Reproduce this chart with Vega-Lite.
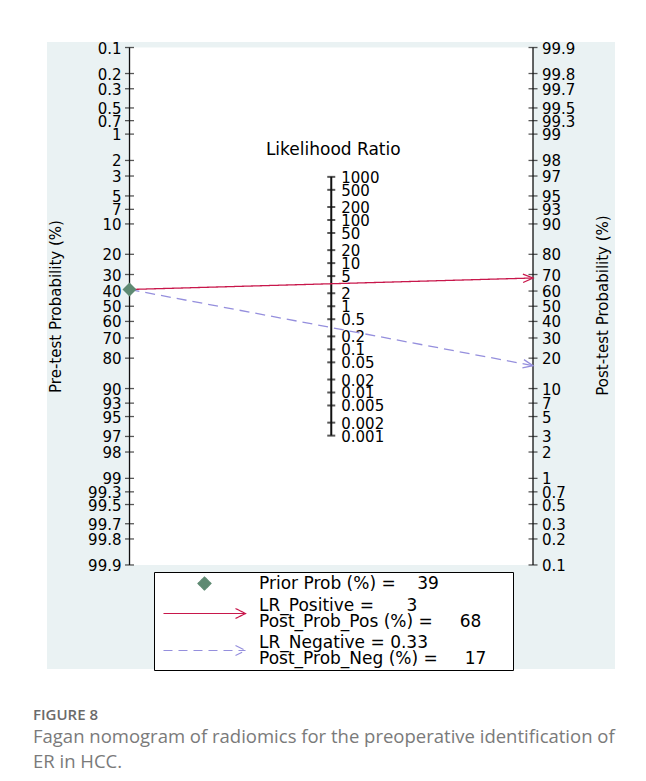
{
  "$schema": "https://vega.github.io/schema/vega-lite/v6.json",
  "width": 568,
  "height": 627,
  "autosize": "none",
  "padding": {"left": 47, "top": 42, "right": 31, "bottom": 112},
  "background": "white",
  "config": {
    "view": {"stroke": null, "fill": "#eaf2f3"},
    "font": "DejaVu Sans"
  },
  "title": {
    "text": "FIGURE 8",
    "subtitle": ["Fagan nomogram of radiomics for the preoperative identification of", "ER in HCC."],
    "orient": "bottom",
    "anchor": "start",
    "frame": "group",
    "dx": -14,
    "offset": 37,
    "font": "Open Sans",
    "fontSize": 15,
    "fontWeight": 600,
    "color": "#6b6b6b",
    "subtitleFont": "Open Sans",
    "subtitleFontSize": 18.5,
    "subtitleColor": "#7a7a7a",
    "subtitlePadding": 5,
    "subtitleLineHeight": 25.5
  },
  "datasets": {
    "ticks": [
      {"axis": "pre", "v": 0.1}, {"axis": "pre", "v": 0.2}, {"axis": "pre", "v": 0.3}, {"axis": "pre", "v": 0.5}, {"axis": "pre", "v": 0.7},
      {"axis": "pre", "v": 1}, {"axis": "pre", "v": 2}, {"axis": "pre", "v": 3}, {"axis": "pre", "v": 5}, {"axis": "pre", "v": 7},
      {"axis": "pre", "v": 10}, {"axis": "pre", "v": 20}, {"axis": "pre", "v": 30}, {"axis": "pre", "v": 40}, {"axis": "pre", "v": 50},
      {"axis": "pre", "v": 60}, {"axis": "pre", "v": 70}, {"axis": "pre", "v": 80}, {"axis": "pre", "v": 90}, {"axis": "pre", "v": 93},
      {"axis": "pre", "v": 95}, {"axis": "pre", "v": 97}, {"axis": "pre", "v": 98}, {"axis": "pre", "v": 99}, {"axis": "pre", "v": 99.3},
      {"axis": "pre", "v": 99.5}, {"axis": "pre", "v": 99.7}, {"axis": "pre", "v": 99.8}, {"axis": "pre", "v": 99.9},
      {"axis": "post", "v": 0.1}, {"axis": "post", "v": 0.2}, {"axis": "post", "v": 0.3}, {"axis": "post", "v": 0.5}, {"axis": "post", "v": 0.7},
      {"axis": "post", "v": 1}, {"axis": "post", "v": 2}, {"axis": "post", "v": 3}, {"axis": "post", "v": 5}, {"axis": "post", "v": 7},
      {"axis": "post", "v": 10}, {"axis": "post", "v": 20}, {"axis": "post", "v": 30}, {"axis": "post", "v": 40}, {"axis": "post", "v": 50},
      {"axis": "post", "v": 60}, {"axis": "post", "v": 70}, {"axis": "post", "v": 80}, {"axis": "post", "v": 90}, {"axis": "post", "v": 93},
      {"axis": "post", "v": 95}, {"axis": "post", "v": 97}, {"axis": "post", "v": 98}, {"axis": "post", "v": 99}, {"axis": "post", "v": 99.3},
      {"axis": "post", "v": 99.5}, {"axis": "post", "v": 99.7}, {"axis": "post", "v": 99.8}, {"axis": "post", "v": 99.9},
      {"axis": "lr", "v": 0.001}, {"axis": "lr", "v": 0.002}, {"axis": "lr", "v": 0.005}, {"axis": "lr", "v": 0.01}, {"axis": "lr", "v": 0.02},
      {"axis": "lr", "v": 0.05}, {"axis": "lr", "v": 0.1}, {"axis": "lr", "v": 0.2}, {"axis": "lr", "v": 0.5}, {"axis": "lr", "v": 1},
      {"axis": "lr", "v": 2}, {"axis": "lr", "v": 5}, {"axis": "lr", "v": 10}, {"axis": "lr", "v": 20}, {"axis": "lr", "v": 50},
      {"axis": "lr", "v": 100}, {"axis": "lr", "v": 200}, {"axis": "lr", "v": 500}, {"axis": "lr", "v": 1000}
    ],
    "lines": [
      {"series": "prior", "axis": "pre", "v": 39},
      {"series": "pos", "axis": "pre", "v": 39},
      {"series": "pos", "axis": "post", "v": 68},
      {"series": "neg", "axis": "pre", "v": 39},
      {"series": "neg", "axis": "post", "v": 17}
    ]
  },
  "resolve": {"scale": {"y": "shared", "x": "shared"}, "axis": {"y": "independent"}},
  "layer": [
    {
      "data": {"name": "ticks"},
      "transform": [
        {"filter": "datum.axis != 'lr'"},
        {"calculate": "datum.axis=='pre' ? 0 : datum.axis=='lr' ? 0.5 : 1", "as": "xpos"},
        {"calculate": "datum.axis=='lr' ? -log(datum.v)/2 : (datum.axis=='pre' ? 1 : -1) * log(datum.v/(100-datum.v))", "as": "ypos"},
        {"aggregate": [
          {"op": "min", "field": "xpos", "as": "x1"}, {"op": "max", "field": "xpos", "as": "x2"},
          {"op": "min", "field": "ypos", "as": "y1"}, {"op": "max", "field": "ypos", "as": "y2"}
        ]}
      ],
      "mark": {"type": "rect", "fill": "white"},
      "encoding": {
        "x": {"field": "x1", "type": "quantitative", "axis": null, "scale": {"domain": [-0.2045, 1.2032], "nice": false, "zero": false}},
        "x2": {"field": "x2"},
        "y": {"field": "y1", "type": "quantitative", "scale": {"domain": [-7.054, 9.684], "reverse": true, "nice": false, "zero": false},
          "axis": {"orient": "left", "title": "Pre-test Probability (%)", "labels": false, "ticks": false, "domain": false, "grid": false,
            "titleX": 8, "titleY": 264, "titleAngle": -90, "titleAlign": "center", "titleBaseline": "middle",
            "titleFont": "DejaVu Sans", "titleFontSize": 15, "titleFontWeight": "normal", "titleColor": "#000"}},
        "y2": {"field": "y2"}
      }
    },
    {
      "data": {"name": "ticks"},
      "transform": [
        {"calculate": "datum.axis=='pre' ? 0 : datum.axis=='lr' ? 0.5 : 1", "as": "xpos"},
        {"calculate": "datum.axis=='lr' ? -log(datum.v)/2 : (datum.axis=='pre' ? 1 : -1) * log(datum.v/(100-datum.v))", "as": "ypos"},
        {"aggregate": [{"op": "min", "field": "ypos", "as": "y1"}, {"op": "max", "field": "ypos", "as": "y2"}], "groupby": ["axis", "xpos"]}
      ],
      "mark": {"type": "rule", "color": "#111"},
      "encoding": {
        "x": {"field": "xpos", "type": "quantitative", "axis": null},
        "y": {"field": "y1", "type": "quantitative",
          "axis": {"orient": "right", "title": "Post-test Probability (%)", "labels": false, "ticks": false, "domain": false, "grid": false,
            "titleX": -13, "titleY": 263, "titleAngle": -90, "titleAlign": "center", "titleBaseline": "middle",
            "titleFont": "DejaVu Sans", "titleFontSize": 15, "titleFontWeight": "normal", "titleColor": "#000"}},
        "y2": {"field": "y2"},
        "strokeWidth": {"condition": {"test": "datum.axis=='lr'", "value": 2}, "value": 1.3}
      }
    },
    {
      "data": {"name": "ticks"},
      "transform": [
        {"filter": "datum.axis != 'lr'"},
        {"calculate": "datum.axis=='pre' ? 0 : datum.axis=='lr' ? 0.5 : 1", "as": "xpos"},
        {"calculate": "datum.axis=='lr' ? -log(datum.v)/2 : (datum.axis=='pre' ? 1 : -1) * log(datum.v/(100-datum.v))", "as": "ypos"}
      ],
      "mark": {"type": "tick", "orient": "horizontal", "size": 9, "thickness": 1.3, "color": "#111"},
      "encoding": {
        "x": {"field": "xpos", "type": "quantitative", "axis": null},
        "y": {"field": "ypos", "type": "quantitative", "axis": null}
      }
    },
    {
      "data": {"name": "ticks"},
      "transform": [
        {"filter": "datum.axis == 'lr'"},
        {"calculate": "datum.axis=='pre' ? 0 : datum.axis=='lr' ? 0.5 : 1", "as": "xpos"},
        {"calculate": "datum.axis=='lr' ? -log(datum.v)/2 : (datum.axis=='pre' ? 1 : -1) * log(datum.v/(100-datum.v))", "as": "ypos"}
      ],
      "mark": {"type": "tick", "orient": "horizontal", "size": 8, "thickness": 2, "color": "#111"},
      "encoding": {
        "x": {"field": "xpos", "type": "quantitative", "axis": null},
        "y": {"field": "ypos", "type": "quantitative", "axis": null}
      }
    },
    {
      "data": {"name": "ticks"},
      "transform": [
        {"filter": "datum.axis == 'pre'"},
        {"calculate": "datum.axis=='pre' ? 0 : datum.axis=='lr' ? 0.5 : 1", "as": "xpos"},
        {"calculate": "datum.axis=='lr' ? -log(datum.v)/2 : (datum.axis=='pre' ? 1 : -1) * log(datum.v/(100-datum.v))", "as": "ypos"}
      ],
      "mark": {"type": "text", "align": "right", "baseline": "middle", "dx": -8, "dy": 1, "fontSize": 15, "font": "DejaVu Sans", "color": "#000"},
      "encoding": {
        "x": {"field": "xpos", "type": "quantitative", "axis": null},
        "y": {"field": "ypos", "type": "quantitative", "axis": null},
        "text": {"field": "v", "type": "nominal"}
      }
    },
    {
      "data": {"name": "ticks"},
      "transform": [
        {"filter": "datum.axis == 'post'"},
        {"calculate": "datum.axis=='pre' ? 0 : datum.axis=='lr' ? 0.5 : 1", "as": "xpos"},
        {"calculate": "datum.axis=='lr' ? -log(datum.v)/2 : (datum.axis=='pre' ? 1 : -1) * log(datum.v/(100-datum.v))", "as": "ypos"}
      ],
      "mark": {"type": "text", "align": "left", "baseline": "middle", "dx": 9, "dy": 1, "fontSize": 15, "font": "DejaVu Sans", "color": "#000"},
      "encoding": {
        "x": {"field": "xpos", "type": "quantitative", "axis": null},
        "y": {"field": "ypos", "type": "quantitative", "axis": null},
        "text": {"field": "v", "type": "nominal"}
      }
    },
    {
      "data": {"name": "ticks"},
      "transform": [
        {"filter": "datum.axis == 'lr'"},
        {"calculate": "datum.axis=='pre' ? 0 : datum.axis=='lr' ? 0.5 : 1", "as": "xpos"},
        {"calculate": "datum.axis=='lr' ? -log(datum.v)/2 : (datum.axis=='pre' ? 1 : -1) * log(datum.v/(100-datum.v))", "as": "ypos"}
      ],
      "mark": {"type": "text", "align": "left", "baseline": "middle", "dx": 10, "dy": 1, "fontSize": 15, "font": "DejaVu Sans", "color": "#000"},
      "encoding": {
        "x": {"field": "xpos", "type": "quantitative", "axis": null},
        "y": {"field": "ypos", "type": "quantitative", "axis": null},
        "text": {"field": "v", "type": "nominal"}
      }
    },
    {
      "data": {"name": "ticks"},
      "transform": [
        {"filter": "datum.axis == 'lr' && datum.v == 1000"},
        {"calculate": "datum.axis=='pre' ? 0 : datum.axis=='lr' ? 0.5 : 1", "as": "xpos"},
        {"calculate": "datum.axis=='lr' ? -log(datum.v)/2 : (datum.axis=='pre' ? 1 : -1) * log(datum.v/(100-datum.v))", "as": "ypos"}
      ],
      "mark": {"type": "text", "text": "Likelihood Ratio", "align": "center", "baseline": "middle", "dy": -27, "dx": 2, "fontSize": 17, "font": "DejaVu Sans", "color": "#000"},
      "encoding": {
        "x": {"field": "xpos", "type": "quantitative", "axis": null},
        "y": {"field": "ypos", "type": "quantitative", "axis": null}
      }
    },
    {
      "data": {"name": "lines"},
      "transform": [
        {"filter": "datum.series != 'prior'"},
        {"calculate": "datum.axis=='pre' ? 0 : datum.axis=='lr' ? 0.5 : 1", "as": "xpos"},
        {"calculate": "datum.axis=='lr' ? -log(datum.v)/2 : (datum.axis=='pre' ? 1 : -1) * log(datum.v/(100-datum.v))", "as": "ypos"}
      ],
      "mark": {"type": "line", "strokeWidth": 1.3},
      "encoding": {
        "x": {"field": "xpos", "type": "quantitative", "axis": null},
        "y": {"field": "ypos", "type": "quantitative", "axis": null},
        "order": {"field": "xpos", "type": "quantitative"},
        "strokeDash": {"condition": {"test": "datum.series=='neg'", "value": [10, 6]}, "value": [1, 0]},
        "color": {"field": "series", "type": "nominal",
          "scale": {"domain": ["prior", "pos", "neg"], "range": ["#5e8a72", "#c8174b", "#958fdd"]},
          "legend": {
            "orient": "none", "legendX": 107, "legendY": 530,
            "title": null, "padding": 3,
            "strokeColor": "#000", "fillColor": "#fff",
            "symbolSize": 169, "symbolStrokeWidth": 1.2,
            "symbolOffset": 39, "labelOffset": 46, "rowPadding": 3,
            "labelFont": "DejaVu Sans", "labelFontSize": 17, "labelColor": "#000", "labelLimit": 500,
            "labelExpr": "datum.value=='prior' ? 'Prior Prob (%) =\u00a0\u00a0\u00a0\u00a039' : datum.value=='pos' ? ['LR_Positive =\u00a0\u00a0\u00a0\u00a0\u00a0\u00a03', 'Post_Prob_Pos (%) =\u00a0\u00a0\u00a0\u00a0\u00a068'] : ['LR_Negative =\u00a00.33', 'Post_Prob_Neg (%) =\u00a0\u00a0\u00a0\u00a0\u00a017']",
            "encode": {
              "symbols": {"update": {
                "shape": {"signal": "datum.value=='prior' ? 'M-1,0L0,-1L1,0L0,1ZM46.6,0L46.6,0' : 'M-6.31,0L6.31,0M4.77,-0.77L6.31,0L4.77,0.77'"},
                "fill": {"signal": "datum.value=='prior' ? '#5e8a72' : 'transparent'"},
                "fillOpacity": {"signal": "datum.value=='prior' ? 1 : 0"},
                "stroke": {"signal": "datum.value=='pos' ? '#c8174b' : datum.value=='neg' ? '#958fdd' : 'transparent'"},
                "strokeDash": {"signal": "datum.value=='neg' ? [9, 6] : [1, 0]"},
                "strokeWidth": {"value": 1.2},
                "size": {"value": 169},
                "opacity": {"value": 1}
              }},
              "labels": {"update": {
                "lineHeight": {"value": 16},
                "dy": {"signal": "datum.value=='prior' ? 0 : -8"}
              }}
            }
          }}
      }
    },
    {
      "data": {"name": "lines"},
      "transform": [
        {"filter": "datum.series != 'prior' && datum.axis == 'post'"},
        {"calculate": "datum.axis=='pre' ? 0 : datum.axis=='lr' ? 0.5 : 1", "as": "xpos"},
        {"calculate": "datum.axis=='lr' ? -log(datum.v)/2 : (datum.axis=='pre' ? 1 : -1) * log(datum.v/(100-datum.v))", "as": "ypos"}
      ],
      "mark": {"type": "point", "shape": "M-1,-0.42L0,0L-1,0.42", "filled": false, "size": 400, "strokeWidth": 1.3, "opacity": 1},
      "encoding": {
        "x": {"field": "xpos", "type": "quantitative", "axis": null},
        "y": {"field": "ypos", "type": "quantitative", "axis": null},
        "angle": {"condition": {"test": "datum.series=='neg'", "value": 10.7}, "value": -1.6},
        "color": {"field": "series", "type": "nominal"}
      }
    },
    {
      "data": {"name": "lines"},
      "transform": [
        {"filter": "datum.series == 'prior'"},
        {"calculate": "datum.axis=='pre' ? 0 : datum.axis=='lr' ? 0.5 : 1", "as": "xpos"},
        {"calculate": "datum.axis=='lr' ? -log(datum.v)/2 : (datum.axis=='pre' ? 1 : -1) * log(datum.v/(100-datum.v))", "as": "ypos"}
      ],
      "mark": {"type": "point", "shape": "diamond", "filled": true, "size": 196, "opacity": 1},
      "encoding": {
        "x": {"field": "xpos", "type": "quantitative", "axis": null},
        "y": {"field": "ypos", "type": "quantitative", "axis": null},
        "color": {"field": "series", "type": "nominal"}
      }
    }
  ]
}
